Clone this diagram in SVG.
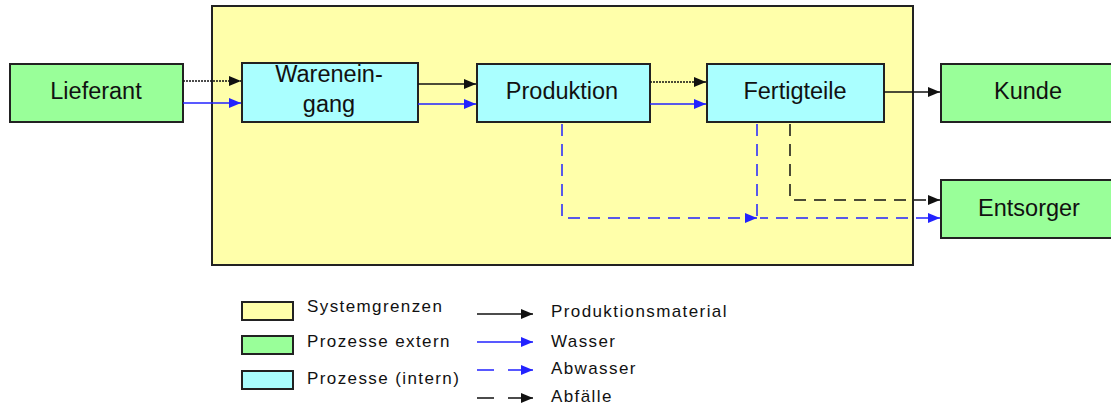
<svg xmlns="http://www.w3.org/2000/svg" width="1111" height="407" viewBox="0 0 1111 407">
<style>
.t{font-family:"Liberation Sans",Arial,sans-serif;fill:#111}
.n{font-size:23.5px;text-anchor:middle}
.l{font-size:17px;letter-spacing:1.4px}
.ext{fill:#99ff99;stroke:#222;stroke-width:2}
.int{fill:#aaffff;stroke:#222;stroke-width:2}
.sys{fill:#ffffaa;stroke:#222;stroke-width:2}
.k{stroke:#111;stroke-width:1.5;fill:none}
.b{stroke:#2222ff;stroke-width:1.5;fill:none}
.kd{stroke:#111;stroke-width:1.5;fill:none;stroke-dasharray:12 8}
.bd{stroke:#2222ff;stroke-width:1.5;fill:none;stroke-dasharray:12 8}
</style>
<defs>
<marker id="ak" viewBox="0 0 12 10" refX="12" refY="5" markerWidth="12" markerHeight="10" markerUnits="userSpaceOnUse" orient="auto"><path d="M0,0 L12,5 L0,10 z" fill="#111"/></marker>
<marker id="ab" viewBox="0 0 12 10" refX="12" refY="5" markerWidth="12" markerHeight="10" markerUnits="userSpaceOnUse" orient="auto"><path d="M0,0 L12,5 L0,10 z" fill="#2222ff"/></marker>
</defs>
<rect width="1111" height="407" fill="#fff"/>
<g id="system"><rect class="sys" x="212" y="6" width="701" height="259"/></g>
<g id="lieferant"><rect class="ext" x="10" y="64" width="173" height="58"/><text class="t n" x="96" y="99">Lieferant</text></g>
<g id="wareneingang"><rect class="int" x="242" y="63" width="176" height="59"/><text class="t n" x="329" y="82">Warenein-</text><text class="t n" x="329" y="112">gang</text></g>
<g id="produktion"><rect class="int" x="477" y="64" width="173" height="58"/><text class="t n" x="562" y="99">Produktion</text></g>
<g id="fertigteile"><rect class="int" x="707" y="64" width="177" height="58"/><text class="t n" x="795" y="99">Fertigteile</text></g>
<g id="kunde"><rect class="ext" x="941" y="64" width="180" height="58"/><text class="t n" x="1028" y="99">Kunde</text></g>
<g id="entsorger"><rect class="ext" x="941" y="180" width="180" height="58"/><text class="t n" x="1029" y="216">Entsorger</text></g>
<g id="connectors">
<path class="k" d="M183,81 H241" stroke-dasharray="2 1" marker-end="url(#ak)"/>
<path class="b" d="M183,103 H241" marker-end="url(#ab)"/>
<path class="k" d="M418,84 H476" marker-end="url(#ak)"/>
<path class="b" d="M418,104 H476" marker-end="url(#ab)"/>
<path class="k" d="M650,82 H706" stroke-dasharray="2 1" marker-end="url(#ak)"/>
<path class="b" d="M650,104 H706" marker-end="url(#ab)"/>
<path class="k" d="M884,92 H940" marker-end="url(#ak)"/>
<path class="bd" d="M562,124 V218 H757" marker-end="url(#ab)"/>
<path class="bd" d="M757,124 V218"/>
<path class="bd" d="M760,218 H940" stroke-dashoffset="4" marker-end="url(#ab)"/>
<path class="kd" d="M790,124 V200 H940" marker-end="url(#ak)"/>
</g>
<g id="legend">
<rect class="sys" x="242" y="302" width="51" height="18" stroke-width="1.5"/>
<rect class="ext" x="242" y="336" width="51" height="18" stroke-width="1.5"/>
<rect class="int" x="242" y="371" width="51" height="18" stroke-width="1.5"/>
<text class="t l" x="307" y="312">Systemgrenzen</text>
<text class="t l" x="307" y="347">Prozesse extern</text>
<text class="t l" x="307" y="384">Prozesse (intern)</text>
<path class="k" d="M477,314 H533" marker-end="url(#ak)"/>
<path class="b" d="M477,342 H533" marker-end="url(#ab)"/>
<path class="b" d="M477,370 H494 M508,370 H533" marker-end="url(#ab)"/>
<path class="k" d="M477,398 H494 M508,398 H533" marker-end="url(#ak)"/>
<text class="t l" x="551" y="317">Produktionsmaterial</text>
<text class="t l" x="551" y="347">Wasser</text>
<text class="t l" x="551" y="374">Abwasser</text>
<text class="t l" x="551" y="402">Abfälle</text>
</g>
</svg>
